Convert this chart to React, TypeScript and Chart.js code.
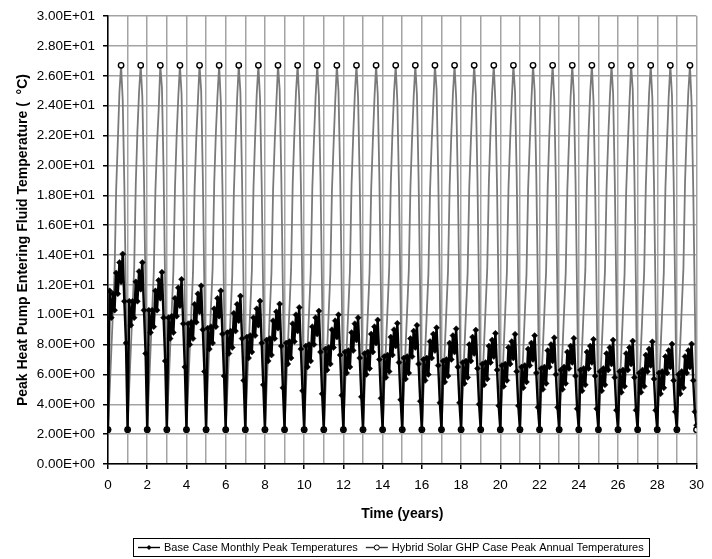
import React, { useEffect, useRef } from 'react';
import { Chart, registerables } from 'chart.js';

Chart.register(...registerables);

const FONT = "Arial, 'Liberation Sans', Helvetica, sans-serif";

const monthsPerYear = 12;
const xMin = 0;
const xMax = 30;
const yMin = 0;
const yMax = 30;
const yStep = 2;
const xStep = 1;

const seriesLabels = [
  'Base Case Monthly Peak Temperatures',
  'Hybrid Solar GHP Case Peak Annual Temperatures',
];
const xAxisTitle = 'Time (years)';
const yAxisTitle = 'Peak Heat Pump Entering Fluid Temperature (  \u00B0C)';

// Base case: one row per year, 12 monthly peak values
const baseCaseMonthly: number[][] = [
  [2.3, 11.6, 9.8, 11.4, 10.3, 12.8, 11.4, 13.5, 12.2, 14.07, 10.9, 8.1],
  [2.3, 10.9, 9.3, 10.9, 9.8, 12.2, 10.9, 12.9, 11.7, 13.5, 10.3, 7.4],
  [2.3, 10.3, 8.8, 10.3, 9.2, 11.6, 10.3, 12.3, 11.1, 12.85, 9.8, 6.9],
  [2.3, 9.8, 8.4, 9.9, 8.8, 11.1, 9.9, 11.8, 10.6, 12.37, 9.4, 6.5],
  [2.3, 9.4, 8.0, 9.5, 8.4, 10.7, 9.5, 11.4, 10.2, 11.94, 9.0, 6.2],
  [2.3, 9.1, 7.7, 9.2, 8.1, 10.4, 9.2, 11.1, 9.9, 11.6, 8.7, 5.9],
  [2.3, 8.8, 7.4, 8.9, 7.8, 10.1, 8.9, 10.7, 9.6, 11.25, 8.4, 5.6],
  [2.3, 8.5, 7.1, 8.6, 7.5, 9.8, 8.6, 10.4, 9.3, 10.92, 8.1, 5.3],
  [2.3, 8.3, 6.9, 8.4, 7.3, 9.6, 8.4, 10.2, 9.1, 10.72, 7.9, 5.1],
  [2.3, 8.1, 6.7, 8.2, 7.1, 9.4, 8.2, 10.0, 8.9, 10.49, 7.7, 4.9],
  [2.3, 7.9, 6.5, 8.0, 6.9, 9.2, 8.0, 9.8, 8.7, 10.25, 7.5, 4.7],
  [2.3, 7.7, 6.3, 7.8, 6.7, 9.0, 7.8, 9.6, 8.5, 10.0, 7.3, 4.6],
  [2.3, 7.5, 6.1, 7.6, 6.5, 8.8, 7.6, 9.4, 8.3, 9.8, 7.1, 4.5],
  [2.3, 7.4, 6.0, 7.5, 6.4, 8.7, 7.5, 9.2, 8.1, 9.65, 7.0, 4.4],
  [2.3, 7.2, 5.8, 7.3, 6.2, 8.5, 7.3, 9.0, 7.9, 9.42, 6.8, 4.3],
  [2.3, 7.1, 5.7, 7.2, 6.1, 8.4, 7.2, 8.9, 7.8, 9.29, 6.7, 4.2],
  [2.3, 7.0, 5.6, 7.1, 6.0, 8.2, 7.1, 8.7, 7.6, 9.13, 6.6, 4.1],
  [2.3, 6.9, 5.5, 7.0, 5.9, 8.1, 7.0, 8.6, 7.5, 9.06, 6.5, 4.1],
  [2.3, 6.8, 5.4, 6.9, 5.8, 8.0, 6.9, 8.5, 7.4, 8.97, 6.4, 4.0],
  [2.3, 6.7, 5.3, 6.8, 5.7, 7.9, 6.8, 8.3, 7.2, 8.75, 6.3, 3.9],
  [2.3, 6.6, 5.2, 6.7, 5.6, 7.8, 6.7, 8.2, 7.1, 8.69, 6.2, 3.9],
  [2.3, 6.5, 5.1, 6.6, 5.5, 7.7, 6.6, 8.1, 7.0, 8.6, 6.1, 3.8],
  [2.3, 6.4, 5.0, 6.5, 5.4, 7.6, 6.5, 8.0, 6.9, 8.46, 6.0, 3.8],
  [2.3, 6.3, 5.0, 6.5, 5.4, 7.5, 6.4, 7.9, 6.8, 8.42, 5.9, 3.7],
  [2.3, 6.3, 4.9, 6.4, 5.3, 7.5, 6.4, 7.9, 6.8, 8.35, 5.9, 3.7],
  [2.3, 6.2, 4.9, 6.4, 5.3, 7.4, 6.3, 7.8, 6.7, 8.3, 5.8, 3.6],
  [2.3, 6.2, 4.8, 6.3, 5.2, 7.4, 6.3, 7.8, 6.7, 8.24, 5.8, 3.6],
  [2.3, 6.1, 4.8, 6.3, 5.2, 7.3, 6.2, 7.7, 6.6, 8.19, 5.7, 3.6],
  [2.3, 6.1, 4.7, 6.2, 5.1, 7.2, 6.1, 7.6, 6.5, 8.04, 5.6, 3.5],
  [2.3, 6.0, 4.7, 6.2, 5.1, 7.2, 6.1, 7.6, 6.5, 8.04, 5.6, 3.5],
];
const baseCaseFinal = 2.6;

// Hybrid solar GHP case: one row per year, 12 monthly values
const hybridMonthly: number[][] = [
  [2.3, 4.9, 7.5, 10.1, 12.7, 18.4, 21.6, 24.9, 26.7, 24.4, 18.7, 10.8],
  [2.3, 5.2, 7.8, 10.4, 13.0, 18.8, 22.3, 24.9, 26.7, 24.6, 19.2, 11.3],
  [2.3, 5.0, 7.6, 10.2, 12.8, 18.3, 21.4, 23.7, 26.7, 25.2, 19.6, 11.6],
  [2.3, 5.1, 7.7, 10.3, 12.9, 18.6, 22.0, 24.6, 26.7, 24.8, 18.9, 11.0],
  [2.3, 5.0, 7.6, 10.2, 12.8, 18.5, 21.8, 24.3, 26.7, 25.0, 19.3, 11.4],
  [2.3, 5.3, 7.9, 10.5, 13.1, 18.9, 22.2, 24.7, 26.7, 24.3, 18.6, 10.7],
  [2.3, 4.9, 7.4, 10.0, 12.6, 18.2, 21.5, 24.5, 26.7, 24.9, 19.1, 11.2],
  [2.3, 5.1, 7.7, 10.3, 12.9, 18.5, 21.9, 24.8, 26.7, 24.5, 18.8, 10.9],
  [2.3, 5.0, 7.6, 10.2, 12.8, 18.4, 21.6, 24.2, 26.7, 25.1, 19.4, 11.5],
  [2.3, 5.2, 7.8, 10.4, 13.0, 18.8, 22.1, 24.9, 26.7, 24.4, 18.7, 10.8],
  [2.3, 5.0, 7.6, 10.2, 12.8, 18.5, 21.7, 24.6, 26.7, 24.7, 19.0, 11.1],
  [2.3, 4.9, 7.5, 10.1, 12.7, 18.3, 21.4, 24.3, 26.7, 25.0, 19.5, 11.6],
  [2.3, 5.1, 7.7, 10.3, 12.9, 18.7, 22.0, 24.8, 26.7, 24.5, 18.8, 10.9],
  [2.3, 5.0, 7.6, 10.2, 12.8, 18.4, 21.6, 24.5, 26.7, 24.8, 19.2, 11.3],
  [2.3, 5.2, 7.8, 10.4, 13.0, 18.8, 22.2, 24.9, 26.7, 24.3, 18.6, 10.7],
  [2.3, 5.1, 7.7, 10.3, 12.9, 18.5, 21.8, 24.6, 26.7, 24.7, 19.1, 11.2],
  [2.3, 4.9, 7.5, 10.1, 12.7, 18.3, 21.5, 24.2, 26.7, 25.1, 19.5, 11.6],
  [2.3, 5.1, 7.7, 10.3, 12.9, 18.6, 22.0, 24.8, 26.7, 24.5, 18.9, 11.0],
  [2.3, 5.0, 7.6, 10.2, 12.8, 18.5, 21.7, 24.5, 26.7, 24.8, 19.2, 11.3],
  [2.3, 5.3, 7.9, 10.5, 13.1, 18.9, 22.3, 24.9, 26.7, 24.2, 18.5, 10.6],
  [2.3, 5.0, 7.6, 10.2, 12.8, 18.5, 21.7, 24.4, 26.7, 24.9, 19.3, 11.4],
  [2.3, 4.9, 7.5, 10.1, 12.7, 18.4, 21.5, 24.3, 26.7, 25.0, 19.4, 11.5],
  [2.3, 5.1, 7.7, 10.3, 12.9, 18.7, 22.1, 24.8, 26.7, 24.4, 18.7, 10.8],
  [2.3, 5.0, 7.6, 10.2, 12.8, 18.4, 21.6, 24.6, 26.7, 24.7, 19.0, 11.1],
  [2.3, 5.2, 7.8, 10.4, 13.0, 18.8, 22.2, 24.9, 26.7, 24.3, 18.6, 10.7],
  [2.3, 5.1, 7.7, 10.3, 12.9, 18.5, 21.8, 24.5, 26.7, 24.8, 19.1, 11.2],
  [2.3, 4.9, 7.5, 10.1, 12.7, 18.3, 21.4, 24.2, 26.7, 25.1, 19.5, 11.6],
  [2.3, 5.1, 7.7, 10.3, 12.9, 18.6, 22.0, 24.8, 26.7, 24.5, 18.8, 10.9],
  [2.3, 5.0, 7.6, 10.2, 12.8, 18.5, 21.7, 24.6, 26.7, 24.7, 19.2, 11.3],
  [2.3, 5.3, 7.9, 10.5, 13.1, 18.9, 22.3, 24.9, 26.7, 24.2, 18.5, 10.6],
];
const hybridFinal = 2.3;
const hybridMarkerMonths = [0, 8];

function toPoints(rows: number[][], finalValue: number) {
  const pts: { x: number; y: number }[] = [];
  rows.forEach((row, year) => {
    row.forEach((v, m) => pts.push({ x: year + m / monthsPerYear, y: v }));
  });
  pts.push({ x: rows.length, y: finalValue });
  return pts;
}

function sci(v: number) {
  const [mant, exp] = Number(v).toExponential(2).split('e');
  const e = parseInt(exp, 10);
  return `${mant}E${e < 0 ? '-' : '+'}${String(Math.abs(e)).padStart(2, '0')}`;
}

const legendPlugin = {
  id: 'boxLegend',
  afterDraw(chart: any) {
    const ctx = chart.ctx as CanvasRenderingContext2D;
    ctx.save();
    ctx.font = `11px ${FONT}`;
    const sampleW = 22;
    const gap = 4;
    const between = 8;
    const padX = 5;
    const w1 = ctx.measureText(seriesLabels[0]).width;
    const w2 = ctx.measureText(seriesLabels[1]).width;
    const total = padX + sampleW + gap + w1 + between + sampleW + gap + w2 + padX;
    const cx = 391;
    const left = Math.round(cx - total / 2);
    const top = 538;
    const h = 18;
    ctx.strokeStyle = '#000';
    ctx.lineWidth = 1;
    ctx.strokeRect(left + 0.5, top + 0.5, Math.round(total), h);
    const midY = top + h / 2 + 0.5;
    let x = left + padX;
    ctx.beginPath();
    ctx.moveTo(x, midY);
    ctx.lineTo(x + sampleW, midY);
    ctx.strokeStyle = '#000';
    ctx.lineWidth = 1.4;
    ctx.stroke();
    ctx.fillStyle = '#000';
    ctx.beginPath();
    const mx1 = x + sampleW / 2;
    ctx.moveTo(mx1, midY - 2.5);
    ctx.lineTo(mx1 + 2.5, midY);
    ctx.lineTo(mx1, midY + 2.5);
    ctx.lineTo(mx1 - 2.5, midY);
    ctx.closePath();
    ctx.fill();
    x += sampleW + gap;
    ctx.fillStyle = '#000';
    ctx.textBaseline = 'middle';
    ctx.textAlign = 'left';
    ctx.fillText(seriesLabels[0], x, midY);
    x += w1 + between;
    ctx.beginPath();
    ctx.moveTo(x, midY);
    ctx.lineTo(x + sampleW, midY);
    ctx.strokeStyle = '#333';
    ctx.lineWidth = 1.4;
    ctx.stroke();
    const mx2 = x + sampleW / 2;
    ctx.beginPath();
    ctx.arc(mx2, midY, 2.5, 0, Math.PI * 2);
    ctx.fillStyle = '#fff';
    ctx.fill();
    ctx.strokeStyle = '#000';
    ctx.lineWidth = 1;
    ctx.stroke();
    x += sampleW + gap;
    ctx.fillStyle = '#000';
    ctx.fillText(seriesLabels[1], x, midY);
    ctx.restore();
  },
};

export default function App() {
  const canvasRef = useRef<HTMLCanvasElement | null>(null);

  useEffect(() => {
    if (!canvasRef.current) return;
    const basePts = toPoints(baseCaseMonthly, baseCaseFinal);
    const hybridPts = toPoints(hybridMonthly, hybridFinal);

    const chart = new Chart(canvasRef.current, {
      type: 'line',
      data: {
        datasets: [
          {
            label: seriesLabels[0],
            data: basePts,
            borderColor: '#000',
            borderWidth: 2.4,
            backgroundColor: '#000',
            pointStyle: 'rectRot',
            pointRadius: 3,
            pointBorderWidth: 0.5,
            pointBorderColor: '#000',
            pointBackgroundColor: '#000',
            tension: 0,
          },
          {
            label: seriesLabels[1],
            data: hybridPts,
            borderColor: '#7a7a7a',
            borderWidth: 1.8,
            backgroundColor: '#fff',
            pointStyle: 'circle',
            pointRadius: (c: any) =>
              hybridMarkerMonths.includes(c.dataIndex % monthsPerYear) ? 2.7 : 0,
            pointBorderWidth: 1.4,
            pointBorderColor: '#000',
            pointBackgroundColor: '#fff',
            tension: 0,
          },
        ],
      },
      options: {
        responsive: false,
        animation: false,
        parsing: false as any,
        normalized: true,
        layout: { padding: { left: 0, right: 7, top: 16, bottom: 36 } },
        plugins: {
          legend: { display: false },
          tooltip: { enabled: false },
        },
        scales: {
          x: {
            type: 'linear',
            min: xMin,
            max: xMax,
            afterFit: (s: any) => {
              s.height = 59;
            },
            ticks: {
              stepSize: xStep,
              autoSkip: false,
              maxRotation: 0,
              padding: 8,
              color: '#000',
              font: { family: FONT, size: 13.5 },
              callback: (v: any) => (Number(v) % 2 === 0 ? String(v) : ''),
            },
            grid: {
              color: '#a3a3a3',
              lineWidth: 1.5,
              drawTicks: true,
              tickLength: 5,
              tickColor: (c: any) =>
                c.tick && Number(c.tick.value) % 2 === 0 ? '#000' : 'rgba(0,0,0,0)',
              tickWidth: 1.5,
            },
            border: { display: true, color: '#000', width: 1.5 },
            title: {
              display: true,
              text: xAxisTitle,
              color: '#000',
              font: { family: FONT, size: 14, weight: 'bold' },
              padding: { top: 0, bottom: 0 },
            },
          },
          y: {
            type: 'linear',
            min: yMin,
            max: yMax,
            afterFit: (s: any) => {
              s.width = 108;
            },
            ticks: {
              stepSize: yStep,
              padding: 8,
              color: '#000',
              font: { family: FONT, size: 13.5 },
              callback: (v: any) => sci(Number(v)),
            },
            grid: {
              color: '#a3a3a3',
              lineWidth: 1.5,
              drawTicks: true,
              tickLength: 5,
              tickColor: '#000',
              tickWidth: 1.5,
            },
            border: { display: true, color: '#000', width: 1.5 },
            title: {
              display: true,
              text: yAxisTitle,
              color: '#000',
              font: { family: FONT, size: 14, weight: 'bold' },
              padding: { top: 15, bottom: 0 },
            },
          },
        },
      },
      plugins: [legendPlugin],
    });
    return () => chart.destroy();
  }, []);

  return (
    <div style={{ position: 'fixed', left: 0, top: 0, width: 712, height: 559, background: '#fff' }}>
      <canvas ref={canvasRef} width={712} height={559} style={{ display: 'block' }} />
    </div>
  );
}
